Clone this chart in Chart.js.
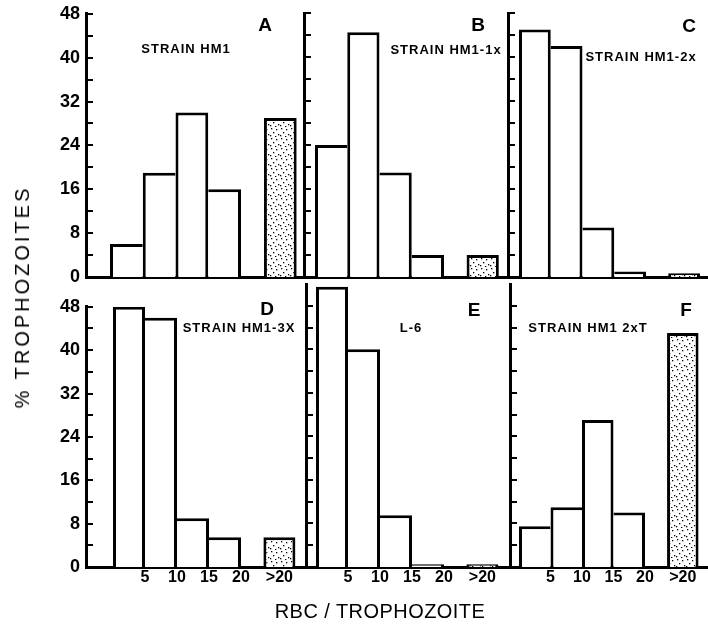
<!DOCTYPE html>
<html><head><meta charset="utf-8">
<script src="https://cdn.jsdelivr.net/npm/chart.js@4"></script>
<style>
html,body{margin:0;padding:0;background:#fff;}
#wrap{position:relative;width:708px;height:625px;overflow:hidden;background:#fff;font-family:"Liberation Sans",Arial,sans-serif;color:#000;}
#wrap canvas{position:absolute;}
.lbl{position:absolute;white-space:nowrap;line-height:1;font-weight:bold;transform:translate(-50%,-50%);}
.letter{font-size:19px;}
.strain{font-size:13px;letter-spacing:1px;}
.ytitle{position:absolute;white-space:nowrap;line-height:1;font-size:20px;letter-spacing:3px;transform:translate(-50%,-50%) rotate(-90deg);}
.xtitle{position:absolute;white-space:nowrap;line-height:1;font-size:21px;letter-spacing:0.5px;transform:translate(-50%,-50%) scaleX(0.95);}
</style></head><body><div id="wrap"></div>
<script>
// ---- data ----
const binCenters = [2.5, 7.5, 12.5, 17.5];      // bins 0-5, 5-10, 10-15, 15-20
const overCenter = 26;                          // ">20" bin
const xTickValues = [5, 10, 15, 20, 26];
const xTickLabels = ['5', '10', '15', '20', '>20'];
const yTickLabels = [0, 8, 16, 24, 32, 40, 48];
const Y_TOP = 48;
const panelLetters = ['A', 'B', 'C', 'D', 'E', 'F'];
const strainNames = ['STRAIN HM1', 'STRAIN HM1-1x', 'STRAIN HM1-2x', 'STRAIN HM1-3X', 'L-6', 'STRAIN HM1 2xT'];
const valuesA = [6, 19, 30, 16];     const overA = 29;
const valuesB = [24, 44.5, 19, 4];   const overB = 4;
const valuesC = [45, 42, 9, 1];      const overC = 0.7;
const valuesD = [48, 46, 9, 5.5];    const overD = 5.5;
const valuesE = [51.5, 40, 9.5, 0.5]; const overE = 0.5;
const valuesF = [7.5, 11, 27, 10];   const overF = 43;
const yTitle = '% TROPHOZOITES';
const xTitle = 'RBC / TROPHOZOITE';

// ---- layout (pixels) ----
const layout = [
  {axisX: 86,  right: 304, top: 13,  bottom: 277, yMax: 48, x0: 110, unit: 6.55, yLabels: true,  xLabels: false, letter: [265, 24], strain: [186, 48]},
  {axisX: 304, right: 508, top: 13,  bottom: 277, yMax: 48, x0: 315, unit: 6.45, yLabels: false, xLabels: false, letter: [478, 24], strain: [446, 49]},
  {axisX: 508, right: 708, top: 13,  bottom: 277, yMax: 48, x0: 519, unit: 6.35, yLabels: false, xLabels: false, letter: [689, 25], strain: [641, 56]},
  {axisX: 86,  right: 306, top: 306, bottom: 567, yMax: 48, x0: 113, unit: 6.4,  yLabels: true,  xLabels: true,  letter: [267, 308], strain: [239, 327]},
  {axisX: 306, right: 510, top: 284, bottom: 567, yMax: 52, x0: 316, unit: 6.4,  yLabels: false, xLabels: true,  letter: [474, 309], strain: [411, 327]},
  {axisX: 510, right: 708, top: 284, bottom: 567, yMax: 52, x0: 519, unit: 6.3,  yLabels: false, xLabels: true,  letter: [686, 309], strain: [588, 327]}
];
const panels = [
  {values: valuesA, over: overA}, {values: valuesB, over: overB}, {values: valuesC, over: overC},
  {values: valuesD, over: overD}, {values: valuesE, over: overE}, {values: valuesF, over: overF}
];

const FONT = '"Liberation Sans", Arial, sans-serif';
Chart.defaults.font.family = FONT;
Chart.defaults.color = '#000';

const wrap = document.getElementById('wrap');

function stipple(ctx) {
  const c = document.createElement('canvas');
  c.width = 10; c.height = 10;
  const g = c.getContext('2d');
  g.fillStyle = '#fff'; g.fillRect(0, 0, 10, 10);
  g.fillStyle = '#000';
  [[1, 1], [6, 2], [3, 5], [8, 7], [0, 8], [5, 9]].forEach(([a, b]) => g.fillRect(a, b, 1.3, 1.3));
  return ctx.createPattern(c, 'repeat');
}

const innerTicks = {
  id: 'innerTicks',
  afterDraw(chart) {
    const s = chart.scales.y, ctx = chart.ctx, a = chart.chartArea;
    ctx.save();
    ctx.strokeStyle = '#000';
    ctx.lineWidth = 2;
    s.ticks.forEach(t => {
      if (t.value <= 0 || t.value > Y_TOP) return;
      const y = Math.round(s.getPixelForValue(t.value));
      ctx.beginPath();
      ctx.moveTo(a.left, y);
      ctx.lineTo(a.left + 7, y);
      ctx.stroke();
    });
    ctx.restore();
  }
};

// one wall between neighbouring bars, drawn by the taller one
function borderSides(ctx) {
  const d = ctx.dataset.data, k = ctx.dataIndex;
  const cur = d[k].y;
  const prev = k > 0 ? d[k - 1].y : -1;
  const next = k < d.length - 1 ? d[k + 1].y : -1;
  return {left: prev <= cur ? 3 : 0, top: 3, right: next < cur ? 3 : 0, bottom: 0};
}

layout.forEach((L, i) => {
  const P = panels[i];
  const padTop = 16, padRight = 4, xAxisH = 30;
  const left = L.yLabels ? 0 : L.axisX - 4;
  const padLeft = L.yLabels ? 0 : 4;
  const yAxisW = L.yLabels ? L.axisX : 0;
  const cTop = L.top - padTop;
  const w = L.right + padRight - left;
  const h = L.bottom + xAxisH - cTop;
  const cv = document.createElement('canvas');
  cv.width = w; cv.height = h;
  cv.style.left = left + 'px'; cv.style.top = cTop + 'px';
  cv.style.width = w + 'px'; cv.style.height = h + 'px';
  wrap.appendChild(cv);
  const ctx = cv.getContext('2d');
  const xMin = (L.axisX - L.x0) / L.unit;
  const xMax = (L.right - L.x0) / L.unit;
  new Chart(ctx, {
    type: 'bar',
    data: {
      datasets: [
        {data: binCenters.map((x, k) => ({x: x, y: P.values[k]})), backgroundColor: '#fff'},
        {data: [{x: overCenter, y: P.over}], backgroundColor: stipple(ctx)}
      ]
    },
    options: {
      responsive: false, animation: false, events: [],
      devicePixelRatio: 1,
      layout: {padding: {top: padTop, right: padRight, left: padLeft, bottom: 0}},
      datasets: {bar: {grouped: false, barPercentage: 1, categoryPercentage: 1,
        borderColor: '#000', borderWidth: borderSides, borderSkipped: false, inflateAmount: 0}},
      plugins: {legend: {display: false}, tooltip: {enabled: false}, title: {display: false}},
      scales: {
        x: {
          type: 'linear', min: xMin, max: xMax, offset: false,
          grid: {display: false, drawTicks: false},
          border: {display: true, color: '#000', width: 3},
          afterBuildTicks: s => { s.ticks = xTickValues.map(v => ({value: v})); },
          ticks: {display: L.xLabels, autoSkip: false, maxRotation: 0, padding: 1, color: '#000',
            font: {size: 16, weight: 'bold', family: FONT},
            callback: v => { const k = xTickValues.indexOf(v); return k < 0 ? '' : xTickLabels[k]; }},
          afterFit: s => { s.height = xAxisH; }
        },
        y: {
          min: 0, max: L.yMax,
          grid: {display: false, drawTicks: false},
          border: {display: true, color: '#000', width: 3},
          ticks: {display: L.yLabels, stepSize: 4, autoSkip: false, padding: 6, color: '#000',
            font: {size: 18, weight: 'bold', family: FONT},
            callback: v => yTickLabels.includes(v) ? String(v) : ''},
          afterFit: s => { s.width = yAxisW; }
        }
      }
    },
    plugins: [innerTicks]
  });
  const le = document.createElement('div');
  le.className = 'lbl letter';
  le.textContent = panelLetters[i];
  le.style.left = L.letter[0] + 'px'; le.style.top = L.letter[1] + 'px';
  wrap.appendChild(le);
  const st = document.createElement('div');
  st.className = 'lbl strain';
  st.textContent = strainNames[i];
  st.style.left = L.strain[0] + 'px'; st.style.top = L.strain[1] + 'px';
  wrap.appendChild(st);
});

const yt = document.createElement('div');
yt.className = 'ytitle'; yt.textContent = yTitle;
yt.style.left = '22px'; yt.style.top = '297px';
wrap.appendChild(yt);
const xt = document.createElement('div');
xt.className = 'xtitle'; xt.textContent = xTitle;
xt.style.left = '380px'; xt.style.top = '610px';
wrap.appendChild(xt);
</script></body></html>
